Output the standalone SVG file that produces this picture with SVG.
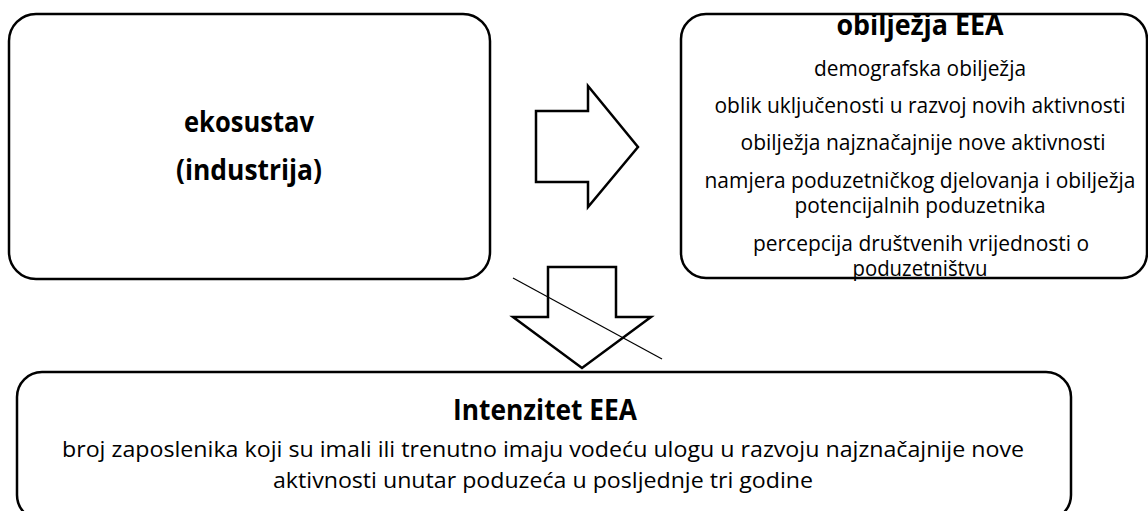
<svg xmlns="http://www.w3.org/2000/svg" width="1148" height="511" viewBox="0 0 1148 511">
<style>
.box{fill:#fff;stroke:#000;stroke-width:2.5}
.arrow{fill:#fff;stroke:#000;stroke-width:2.5;stroke-linejoin:miter}
.t{font-family:"Open Sans","Liberation Sans",sans-serif;fill:#000;text-anchor:middle}
.b{font-size:28px;font-weight:bold}
.r{font-size:21.5px}
</style>
<rect width="1148" height="511" fill="#fff"/>
<g id="connectors">
<polygon class="arrow" points="536,111 588,111 588,86 638,147 588,207 588,182 536,182"/>
<polygon class="arrow" points="548,267 616,267 616,317 651,317 582,368 513,317 548,317"/>
<line x1="513" y1="278" x2="662" y2="359" stroke="#000" stroke-width="1.2"/>
</g>
<g id="node-ekosustav">
<rect class="box" x="9" y="14" width="481" height="265" rx="27"/>
<text class="t b" x="249" y="132"><tspan x="249" y="132" textLength="130" lengthAdjust="spacingAndGlyphs">ekosustav</tspan><tspan x="249" y="180" textLength="146" lengthAdjust="spacingAndGlyphs">(industrija)</tspan></text>
</g>
<g id="node-obiljezja">
<rect class="box" x="681" y="14" width="466" height="264" rx="25"/>
<text class="t b" x="920" y="35" textLength="167" lengthAdjust="spacingAndGlyphs">obilježja EEA</text>
<text class="t r" x="920" y="76" textLength="212" lengthAdjust="spacingAndGlyphs">demografska obilježja</text>
<text class="t r" x="920" y="113" textLength="411" lengthAdjust="spacingAndGlyphs">oblik uključenosti u razvoj novih aktivnosti</text>
<text class="t r" x="923" y="150" textLength="365" lengthAdjust="spacingAndGlyphs">obilježja najznačajnije nove aktivnosti</text>
<text class="t r" x="920" y="188"><tspan x="920" y="188" textLength="431" lengthAdjust="spacingAndGlyphs">namjera poduzetničkog djelovanja i obilježja</tspan><tspan x="920" y="213" textLength="251" lengthAdjust="spacingAndGlyphs">potencijalnih poduzetnika</tspan></text>
<text class="t r" x="921" y="251"><tspan x="921" y="251" textLength="336" lengthAdjust="spacingAndGlyphs">percepcija društvenih vrijednosti o</tspan><tspan x="920" y="276" textLength="135" lengthAdjust="spacingAndGlyphs">poduzetništvu</tspan></text>
</g>
<g id="node-intenzitet">
<rect class="box" x="17" y="372" width="1054" height="148" rx="25"/>
<text class="t b" x="545" y="420" textLength="184" lengthAdjust="spacingAndGlyphs">Intenzitet EEA</text>
<text class="t r" x="543" y="457"><tspan x="543" y="457" textLength="962" lengthAdjust="spacingAndGlyphs">broj zaposlenika koji su imali ili trenutno imaju vodeću ulogu u razvoju najznačajnije nove</tspan><tspan x="543" y="488" textLength="540" lengthAdjust="spacingAndGlyphs">aktivnosti unutar poduzeća u posljednje tri godine</tspan></text>
</g>
</svg>
